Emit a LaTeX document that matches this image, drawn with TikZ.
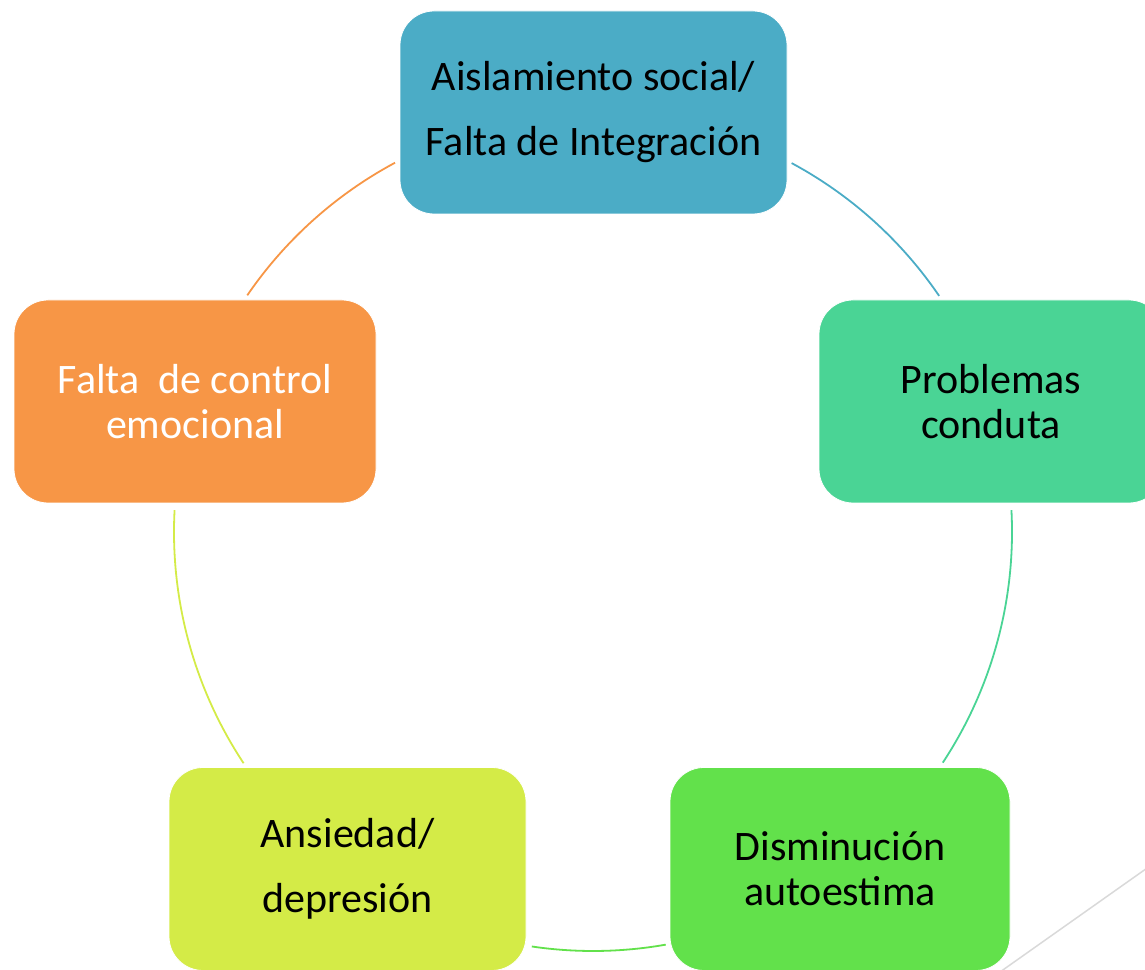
\documentclass[tikz,border=0pt]{standalone}
\usepackage{fontspec}
\setmainfont{Carlito}
\definecolor{cTop}{HTML}{4BACC6}
\definecolor{cRight}{HTML}{4AD495}
\definecolor{cBR}{HTML}{62E14B}
\definecolor{cBL}{HTML}{D4EB47}
\definecolor{cLeft}{HTML}{F79646}
\definecolor{cGray}{HTML}{D9D9D9}
\begin{document}
\begin{tikzpicture}[x=1pt,y=1pt,
  cbox/.style={rounded corners=34pt, minimum height=203pt, inner sep=0pt, align=center, draw=white, line width=0.8pt},
  tightfont/.style={font=\fontsize{42}{45}\selectfont},
  loosefont/.style={font=\fontsize{42}{65}\selectfont},
  ring/.style={line width=1.8pt}]
\useasboundingbox (0,0) rectangle (1145,969);
% decorative slide line
\coordinate (g1) at (1150,103);
\coordinate (g2) at (1000,-3);
\draw[cGray, line width=1.5pt] (g1) -- (g2);
% centre of cycle
\coordinate (C) at (593,437);
\coordinate (a1s) at ([shift={(118.2:419)}]C);
\coordinate (a2s) at ([shift={(61.7:419)}]C);
\coordinate (a3s) at ([shift={(3.0:419)}]C);
\coordinate (a4s) at ([shift={(-80:419)}]C);
\coordinate (a5s) at ([shift={(213.5:419)}]C);
\draw[ring, cLeft] (a1s) arc[start angle=118.2, end angle=145.6, radius=419];
\draw[ring, cTop] (a2s) arc[start angle=61.7, end angle=34.3, radius=419];
\draw[ring, cRight] (a3s) arc[start angle=3.0, end angle=-33.4, radius=419];
\draw[ring, cBR] (a4s) arc[start angle=-80, end angle=-98.4, radius=419];
\draw[ring, cBL] (a5s) arc[start angle=213.5, end angle=177, radius=419];
% boxes
\node[cbox, loosefont, fill=cTop, minimum width=387pt] (top) at (593.5,856.5)
  {Aislamiento social/\\Falta de Integración};
\node[cbox, tightfont, fill=cRight, minimum width=344pt] (right) at (991,567.5)
  {Problemas\\conduta};
\node[cbox, tightfont, fill=cBR, minimum width=340pt] (br) at (840,100)
  {Disminución\\autoestima};
\node[cbox, loosefont, fill=cBL, minimum width=357pt] (bl) at (347.5,100)
  {Ansiedad/\\depresión};
\node[cbox, tightfont, fill=cLeft, minimum width=362pt, text=white] (left) at (195,567.5)
  {Falta\ \ de control\\emocional};
\end{tikzpicture}
\end{document}
